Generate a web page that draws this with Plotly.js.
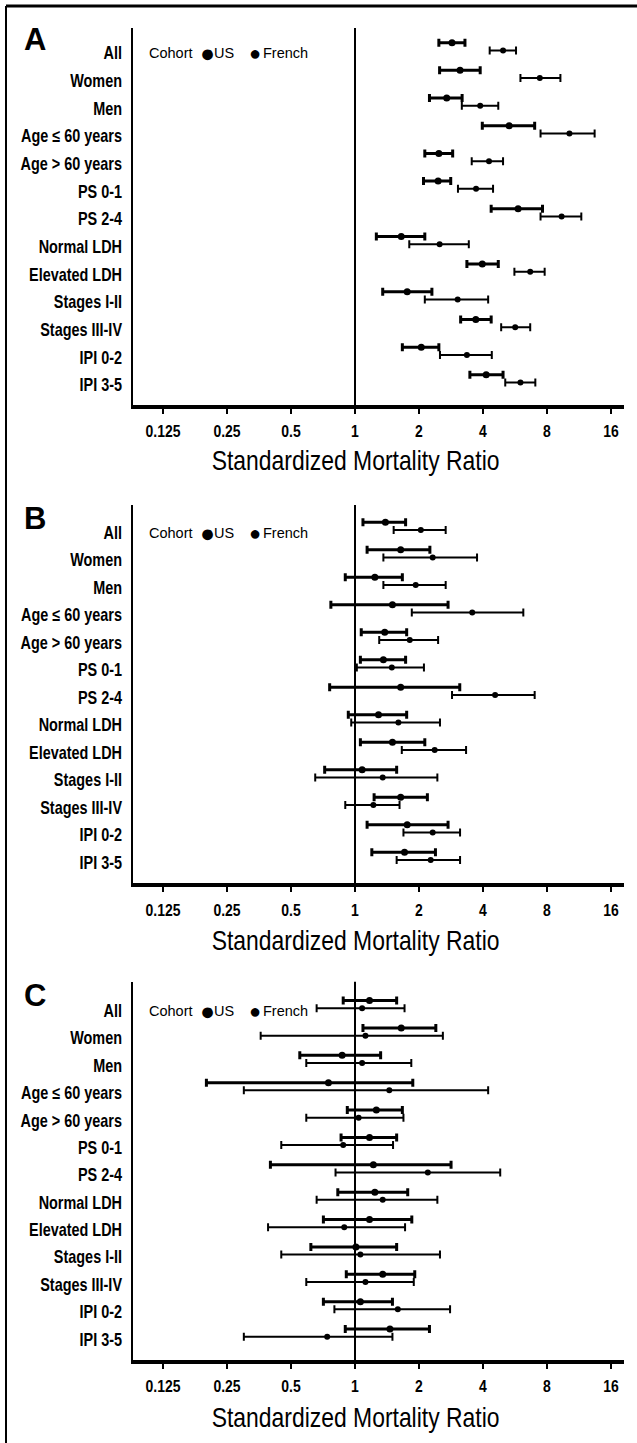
<!DOCTYPE html>
<html><head><meta charset="utf-8">
<script src="https://cdn.plot.ly/plotly-3.0.1.min.js"></script>
<style>html,body{margin:0;padding:0;background:#fff;}#chart{width:637px;height:1443px;}</style>
</head><body><div id="chart"></div>
<script>
// ---------- data ----------
const categories = ['All','Women','Men','Age \u2264 60 years','Age > 60 years','PS 0-1','PS 2-4','Normal LDH','Elevated LDH','Stages I-II','Stages III-IV','IPI 0-2','IPI 3-5'];
const tickVals = [0.125,0.25,0.5,1,2,4,8,16];
const tickLabels = ['0.125','0.25','0.5','1','2','4','8','16'];
const panelLabels = ['A','B','C'];
const cohortNames = ['US','French'];
const legendTitle = 'Cohort';
const axisTitle = 'Standardized Mortality Ratio';

// Panel A
const aUS     = [2.86,3.12,2.70,5.31,2.48,2.46,5.85,1.65,3.97,1.76,3.70,2.05,4.14];
const aUSLow  = [2.48,2.50,2.24,3.97,2.13,2.10,4.37,1.26,3.36,1.35,3.14,1.67,3.47];
const aUSHigh = [3.29,3.88,3.19,7.00,2.88,2.82,7.62,2.13,4.72,2.30,4.37,2.48,4.97];
const aFR     = [4.97,7.40,3.88,10.2,4.27,3.71,9.37,2.50,6.67,3.04,5.67,3.36,6.00];
const aFRLow  = [4.30,6.00,3.18,7.46,3.54,3.05,7.46,1.80,5.62,2.13,4.87,2.51,5.09];
const aFRHigh = [5.72,9.25,4.72,13.4,4.97,4.46,11.6,3.43,7.80,4.23,6.67,4.40,7.05];
// Panel B
const bUS     = [1.39,1.64,1.24,1.50,1.38,1.36,1.64,1.29,1.50,1.08,1.64,1.76,1.71];
const bUSLow  = [1.09,1.14,0.90,0.77,1.07,1.06,0.76,0.93,1.06,0.72,1.23,1.14,1.20];
const bUSHigh = [1.73,2.25,1.67,2.74,1.75,1.73,3.11,1.75,2.13,1.57,2.19,2.74,2.39];
const bFR     = [2.04,2.32,1.93,3.56,1.81,1.49,4.56,1.60,2.37,1.35,1.22,2.32,2.27];
const bFRLow  = [1.52,1.36,1.36,1.85,1.30,1.02,2.86,0.96,1.66,0.65,0.90,1.69,1.57];
const bFRHigh = [2.67,3.75,2.67,6.19,2.46,2.11,7.00,2.51,3.33,2.44,1.62,3.12,3.12];
// Panel C
const cUS     = [1.17,1.65,0.87,0.75,1.26,1.17,1.22,1.24,1.17,1.01,1.35,1.06,1.46];
const cUSLow  = [0.88,1.09,0.55,0.20,0.92,0.86,0.40,0.83,0.71,0.62,0.91,0.71,0.90];
const cUSHigh = [1.57,2.40,1.32,1.87,1.67,1.57,2.83,1.77,1.85,1.57,1.91,1.50,2.24];
const cFR     = [1.08,1.12,1.08,1.45,1.04,0.88,2.20,1.35,0.89,1.06,1.12,1.59,0.74];
const cFRLow  = [0.66,0.36,0.59,0.30,0.59,0.45,0.81,0.66,0.39,0.45,0.59,0.80,0.30];
const cFRHigh = [1.71,2.59,1.84,4.23,1.69,1.51,4.82,2.44,1.72,2.51,1.89,2.80,1.50];

// ---------- fonts: Liberation Sans, horizontally condensed to the reference widths ----------
const fam = '"Liberation Sans", Arial, sans-serif';
const ctx = document.createElement('canvas').getContext('2d');
function textWidth(txt, weight, size) { ctx.font = weight + ' ' + size + 'px ' + fam; return ctx.measureText(txt).width; }
const labelSize = 17.5, tickSize = 17, titleSize = 27, legendSize = 14.5;
const labelScale = Math.min(1, 101 / textWidth('Age \u2264 60 years', 'bold', labelSize));
const tickScale  = Math.min(1, 35 / textWidth('0.125', 'bold', tickSize));
const titleScale = Math.min(1, 288 / textWidth(axisTitle, 'normal', titleSize));

// ---------- layout geometry (pixels) ----------
const W = 637, H = 1443;
const plotLeft = 133, plotRight = 624;
const panels = [
  {top: 28,    bottom: 405,   range: [12.81,-0.81], us:[aUS,aUSLow,aUSHigh], fr:[aFR,aFRLow,aFRHigh], letterY: 40,  titleY: 461},
  {top: 505,   bottom: 883.3, range: [12.85,-0.91], us:[bUS,bUSLow,bUSHigh], fr:[bFR,bFRLow,bFRHigh], letterY: 518, titleY: 941},
  {top: 981.7, bottom: 1360,  range: [12.85,-0.97], us:[cUS,cUSLow,cUSHigh], fr:[cFR,cFRLow,cFRHigh], letterY: 995, titleY: 1418}
];
const usOffset = -0.28, labelOffset = 0.1;

const idx = categories.map((_, i) => i);
const traces = [];
const layout = {
  width: W, height: H, autosize: false,
  margin: {l:0, r:0, t:0, b:0},
  paper_bgcolor: '#fff', plot_bgcolor: '#fff',
  showlegend: false,
  shapes: [], annotations: [],
  font: {family: fam, color: '#000'}
};
const tickSelectors = [];

panels.forEach((p, k) => {
  const n = k === 0 ? '' : String(k + 1);
  const xa = 'x' + n, ya = 'y' + n;
  tickSelectors.push(n);
  const mk = (vals, lo, hi, off, lw, ms, name) => ({
    type: 'scatter', mode: 'markers', name: name,
    x: vals, y: idx.map(i => i + off),
    xaxis: xa, yaxis: ya,
    marker: {color: '#000', size: ms, symbol: 'circle'},
    error_x: {type: 'data', symmetric: false,
      array: vals.map((v, i) => hi[i] - v),
      arrayminus: vals.map((v, i) => v - lo[i]),
      color: '#000', thickness: lw, width: 4},
    hoverinfo: 'skip'
  });
  traces.push(mk(p.us[0], p.us[1], p.us[2], usOffset, 3, 7, cohortNames[0]));
  traces.push(mk(p.fr[0], p.fr[1], p.fr[2], 0, 2, 6, cohortNames[1]));

  layout['xaxis' + n] = {
    domain: [plotLeft / W, plotRight / W], anchor: ya,
    type: 'log', range: [Math.log10(2) * (plotLeft - 355) / 64, Math.log10(2) * (plotRight - 355) / 64],
    tickvals: tickVals, ticktext: tickLabels,
    ticks: 'outside', ticklen: 5, tickwidth: 2, tickcolor: '#000',
    showline: true, linewidth: 4, linecolor: '#000',
    showgrid: false, zeroline: false,
    tickfont: {family: fam, size: tickSize, weight: 'bold', color: '#000'},
    ticklabelstandoff: 3
  };
  layout['yaxis' + n] = {
    domain: [1 - p.bottom / H, 1 - p.top / H], anchor: xa,
    range: p.range,
    tickvals: idx.map(i => i + labelOffset), ticktext: categories,
    ticks: '', showline: true, linewidth: 2.5, linecolor: '#000',
    showgrid: false, zeroline: false,
    tickfont: {family: fam, size: labelSize, weight: 'bold', color: '#000'},
    ticklabelstandoff: 5
  };
  layout.shapes.push({type: 'line', xref: xa, yref: ya + ' domain', x0: 1, x1: 1, y0: 0, y1: 1,
    line: {color: '#000', width: 2}});
  layout.annotations.push({text: panelLabels[k], xref: 'paper', yref: 'paper',
    x: 35 / W, y: 1 - p.letterY / H, xanchor: 'center', yanchor: 'middle', showarrow: false,
    font: {family: fam, size: 31, weight: 'bold', color: '#000'}});
  layout.annotations.push({text: axisTitle, xref: 'paper', yref: 'paper',
    x: 355 / W, y: 1 - p.titleY / H, xanchor: 'center', yanchor: 'middle', showarrow: false,
    font: {family: fam, size: titleSize, color: '#000'}});
  // legend row: "Cohort  ● US  ● French"
  const leg = (text, x, anchor, size) => layout.annotations.push({text: text, xref: 'paper', yref: ya,
    x: x / W, y: labelOffset, xanchor: anchor, yanchor: 'middle', showarrow: false,
    font: {family: fam, size: size, color: '#000'}});
  leg(legendTitle, 147, 'left', legendSize);
  leg('\u25CF', 207, 'center', 25);
  leg(cohortNames[0], 212, 'left', legendSize);
  leg('\u25CF', 255, 'center', 20);
  leg(cohortNames[1], 261, 'left', legendSize);
});

// page frame (top and left rules)
layout.shapes.push({type: 'line', xref: 'paper', yref: 'paper', x0: 6 / W, x1: 1, y0: 1 - 6 / H, y1: 1 - 6 / H, line: {color: '#000', width: 3}});
layout.shapes.push({type: 'line', xref: 'paper', yref: 'paper', x0: 6 / W, x1: 6 / W, y0: 0, y1: 1 - 6 / H, line: {color: '#000', width: 2}});

// narrow the text horizontally about its anchor point (the reference uses a condensed face)
function condense(nodes, sx) {
  nodes.forEach(t => {
    const x = parseFloat(t.getAttribute('x')) || 0;
    const prev = t.getAttribute('transform') || '';
    t.setAttribute('transform', prev + ' translate(' + x + ',0) scale(' + sx + ',1) translate(' + (-x) + ',0)');
  });
}
Plotly.newPlot('chart', traces, layout, {staticPlot: true, displayModeBar: false}).then(gd => {
  tickSelectors.forEach(n => {
    condense(gd.querySelectorAll('.y' + n + 'tick text'), labelScale);
    condense(gd.querySelectorAll('.x' + n + 'tick text'), tickScale);
  });
  condense(Array.from(gd.querySelectorAll('.annotation-text')).filter(t => t.textContent === axisTitle), titleScale);
});
</script>
</body></html>
